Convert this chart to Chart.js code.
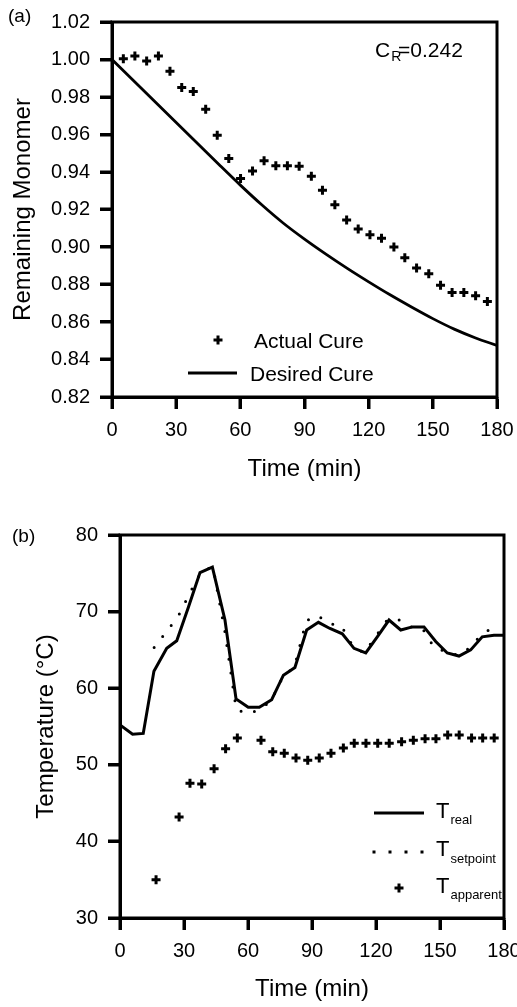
<!DOCTYPE html>
<html>
<head>
<meta charset="utf-8">
<script src="https://cdn.jsdelivr.net/npm/chart.js@4.4.1/dist/chart.umd.min.js"></script>
<style>
  body { margin: 0; background: #fff; }
  .wrap { position: absolute; left: 0; width: 517px; }
  #wrapA { top: 0; height: 490px; }
  #wrapB { top: 490px; height: 517px; }
</style>
</head>
<body>
<div class="wrap" id="wrapA"><canvas id="cureChart"></canvas></div>
<div class="wrap" id="wrapB"><canvas id="tempChart"></canvas></div>
<script>
const FONT = '"Liberation Sans", Arial, sans-serif';

// (a) remaining monomer
const cureTimes = [5.3, 10.7, 16.2, 21.7, 27.1, 32.6, 38.0, 43.8, 49.2, 54.6, 60.1, 65.7, 71.1, 76.6, 82.0, 87.5,
  93.2, 98.4, 104.2, 109.7, 115.1, 120.6, 126.0, 131.8, 136.9, 142.4, 148.1, 153.6, 159.0, 164.5, 170.0, 175.5];
const actualCure = [1.0004, 1.0019, 0.9992, 1.0019, 0.9938, 0.9851, 0.9829, 0.9735, 0.9596, 0.9472, 0.9365, 0.9405,
  0.946, 0.9434, 0.9434, 0.9431, 0.9377, 0.9303, 0.9226, 0.9144, 0.9096, 0.9066, 0.9047, 0.900, 0.8943, 0.8888,
  0.8858, 0.8796, 0.8757, 0.8757, 0.874, 0.8709];
const desiredTimes = [0, 10, 20, 30, 40, 50, 60, 70, 80, 90, 100, 110, 120, 130, 140, 150, 160, 170, 180];
const desiredCure = [1.000, 0.9888, 0.9776, 0.9664, 0.9552, 0.9440, 0.9330, 0.9225, 0.9128, 0.9042, 0.8962, 0.8886,
  0.8814, 0.8745, 0.8680, 0.8618, 0.8562, 0.8515, 0.8475];
const cureTicks = [0.82, 0.84, 0.86, 0.88, 0.90, 0.92, 0.94, 0.96, 0.98, 1.00, 1.02];

// (b) temperatures
const realTimes = [0, 5.9, 10.9, 15.9, 21.9, 26.6, 32.1, 37.5, 43.3, 49.2, 54.4, 60.1, 65.3, 71.1, 76.6, 82.0, 87.5,
  93.0, 98.4, 104.2, 109.7, 115.2, 120.6, 126.1, 131.6, 137.0, 142.5, 148.0, 153.4, 158.9, 164.4, 169.8, 175.3, 180];
const realTemp = [55.2, 54.0, 54.1, 62.2, 65.2, 66.2, 70.6, 75.1, 75.8, 68.9, 58.6, 57.5, 57.5, 58.5, 61.7, 62.7, 67.6,
  68.6, 67.8, 67.1, 65.2, 64.6, 66.7, 68.9, 67.6, 68.0, 68.0, 66.1, 64.6, 64.2, 65.0, 66.7, 66.9, 66.9];
const setTimes = [16.0, 21.8, 27.3, 32.7, 38.2, 43.6, 49.1, 54.5, 60.0, 65.5, 70.9, 76.4, 81.8, 87.3, 92.7, 98.2,
  103.6, 109.1, 114.5, 120.0, 125.5, 130.9, 136.4, 141.8, 147.3, 152.7, 158.2, 163.6, 169.1, 174.5];
const setTemp = [65.3, 67.4, 69.4, 72.4, 75.3, 75.8, 67.5, 57.2, 56.7, 57.2, 58.4, 61.5, 62.8, 68.8, 69.5, 68.4,
  68.2, 65.5, 64.6, 66.8, 69.0, 68.9, 68.0, 67.8, 65.3, 64.8, 64.3, 65.2, 66.9, 67.9];
const appTimes = [16.9, 27.7, 32.8, 38.3, 44.1, 49.5, 55.0, 66.1, 71.6, 77.0, 82.5, 88.0, 93.4, 98.9, 104.7, 109.8,
  115.3, 120.8, 126.2, 132.0, 137.5, 143.0, 148.1, 153.6, 159.0, 164.8, 170.0, 175.4];
const appTemp = [35.0, 43.2, 47.6, 47.5, 49.5, 52.1, 53.5, 53.2, 51.7, 51.5, 50.9, 50.6, 50.9, 51.5, 52.2, 52.8,
  52.8, 52.8, 52.8, 53.0, 53.2, 53.4, 53.4, 53.9, 53.9, 53.5, 53.5, 53.5];
const tempTicks = [30, 40, 50, 60, 70, 80];

const timeTicks = [0, 30, 60, 90, 120, 150, 180];

const pts = (xs, ys) => xs.map((x, i) => ({ x: x, y: ys[i] }));

function drawCross(ctx, x, y, r) {
  ctx.beginPath();
  ctx.moveTo(x - r, y); ctx.lineTo(x + r, y);
  ctx.moveTo(x, y - r); ctx.lineTo(x, y + r);
  ctx.stroke();
}

function subText(ctx, x, y, main, sub, size, subSize, drop) {
  ctx.font = size + 'px ' + FONT;
  ctx.fillText(main, x, y);
  const w = ctx.measureText(main).width;
  ctx.font = subSize + 'px ' + FONT;
  ctx.fillText(sub, x + w + 1, y + drop);
}

// box round the plot, plus outward tick marks
const frame = {
  id: 'frame',
  afterDatasetsDraw(chart) {
    const { ctx, chartArea: a } = chart;
    const xs = chart.scales.x, ys = chart.scales.y;
    ctx.save();
    ctx.strokeStyle = '#000';
    ctx.fillStyle = '#000';
    ctx.lineWidth = 3;
    ctx.strokeRect(a.left, a.top, a.right - a.left, a.bottom - a.top);
    xs.ticks.forEach(t => {
      const px = Math.round(xs.getPixelForValue(t.value));
      ctx.fillRect(px - 1.5, a.bottom, 3, 12);
    });
    ys.ticks.forEach(t => {
      const py = Math.round(ys.getPixelForValue(t.value));
      ctx.fillRect(a.left - 12, py - 1.5, 12, 3);
    });
    ctx.restore();
  }
};

function axes(xTitle, yTitle, yMin, yMax, yTicks, yFmt, yWidth, xHeight, xTitlePad, yTitlePad) {
  const tickFont = { size: 20, family: FONT };
  const titleFont = { size: 24, family: FONT };
  const grid = { drawOnChartArea: false, tickLength: 12, tickWidth: 3, tickColor: '#000' };
  return {
    x: {
      type: 'linear', min: 0, max: 180,
      afterFit(s) { s.height = xHeight; s.paddingLeft = 0; s.paddingRight = 0; },
      afterBuildTicks(s) { s.ticks = timeTicks.map(v => ({ value: v })); },
      ticks: { color: '#000', font: tickFont, padding: 9, maxRotation: 0, autoSkip: false },
      grid: grid,
      border: { color: '#000', width: 3 },
      title: { display: true, text: xTitle, color: '#000', font: titleFont, padding: { top: 0, bottom: xTitlePad } }
    },
    y: {
      min: yMin, max: yMax,
      afterFit(s) { s.width = yWidth; },
      afterBuildTicks(s) { s.ticks = yTicks.map(v => ({ value: v })); },
      ticks: { color: '#000', font: tickFont, padding: 10, callback: yFmt, autoSkip: false },
      grid: grid,
      border: { color: '#000', width: 3 },
      title: { display: true, text: yTitle, color: '#000', font: titleFont, padding: { top: yTitlePad, bottom: 0 } }
    }
  };
}

const cureNotes = {
  id: 'cureNotes',
  afterDraw(chart) {
    const ctx = chart.ctx;
    ctx.save();
    ctx.fillStyle = '#000';
    ctx.strokeStyle = '#000';
    ctx.textBaseline = 'alphabetic';
    ctx.font = '19px ' + FONT;
    ctx.fillText('(a)', 8, 22);
    subText(ctx, 375, 57, 'C', 'R', 21, 14, 4);
    ctx.font = '21px ' + FONT;
    ctx.fillText('=0.242', 398, 57);
    // legend
    ctx.lineWidth = 3;
    drawCross(ctx, 218, 340, 4.5);
    ctx.fillText('Actual Cure', 254, 348);
    ctx.beginPath();
    ctx.moveTo(188, 373); ctx.lineTo(237, 373);
    ctx.stroke();
    ctx.fillText('Desired Cure', 250, 381);
    ctx.restore();
  }
};

const tempNotes = {
  id: 'tempNotes',
  afterDraw(chart) {
    const ctx = chart.ctx;
    ctx.save();
    ctx.fillStyle = '#000';
    ctx.strokeStyle = '#000';
    ctx.textBaseline = 'alphabetic';
    ctx.font = '19px ' + FONT;
    ctx.fillText('(b)', 12, 52);
    ctx.lineWidth = 3;
    ctx.beginPath();
    ctx.moveTo(374, 323); ctx.lineTo(424, 323);
    ctx.stroke();
    subText(ctx, 436, 328, 'T', 'real', 22, 13, 6);
    [374, 390, 406, 422].forEach(x => { ctx.fillRect(x - 1.5, 360.5, 3, 3); });
    subText(ctx, 436, 366, 'T', 'setpoint', 22, 13, 7);
    drawCross(ctx, 399, 398, 4.5);
    subText(ctx, 436, 403, 'T', 'apparent', 22, 13, 6);
    ctx.restore();
  }
};

new Chart(document.getElementById('cureChart'), {
  type: 'line',
  data: {
    datasets: [
      {
        label: 'Desired Cure',
        data: pts(desiredTimes, desiredCure),
        borderColor: '#000', borderWidth: 2.8, pointRadius: 0, cubicInterpolationMode: 'monotone', fill: false
      },
      {
        label: 'Actual Cure',
        data: pts(cureTimes, actualCure),
        showLine: false, pointStyle: 'cross', pointRadius: 4.5, pointBorderWidth: 3,
        pointBorderColor: '#000', borderColor: '#000'
      }
    ]
  },
  options: {
    responsive: true, maintainAspectRatio: false, animation: false,
    layout: { padding: { left: 0, right: 20, top: 13, bottom: 0 } },
    plugins: { legend: { display: false }, tooltip: { enabled: false } },
    scales: axes('Time (min)', 'Remaining Monomer', 0.82, 1.02, cureTicks, v => v.toFixed(2), 112, 93, 6, 9)
  },
  plugins: [frame, cureNotes]
});

new Chart(document.getElementById('tempChart'), {
  type: 'line',
  data: {
    datasets: [
      {
        label: 'T_real',
        data: pts(realTimes, realTemp),
        borderColor: '#000', borderWidth: 3, pointRadius: 0, tension: 0, fill: false
      },
      {
        label: 'T_setpoint',
        data: pts(setTimes, setTemp),
        borderColor: '#000', borderWidth: 3, borderDash: [0, 14], borderCapStyle: 'round',
        pointRadius: 0, tension: 0, fill: false
      },
      {
        label: 'T_apparent',
        data: pts(appTimes, appTemp),
        showLine: false, pointStyle: 'cross', pointRadius: 4.5, pointBorderWidth: 3,
        pointBorderColor: '#000', borderColor: '#000'
      }
    ]
  },
  options: {
    responsive: true, maintainAspectRatio: false, animation: false,
    layout: { padding: { left: 0, right: 13, top: 45, bottom: 0 } },
    plugins: { legend: { display: false }, tooltip: { enabled: false } },
    scales: axes('Time (min)', 'Temperature (°C)', 30, 80, tempTicks, v => v, 120, 89, 3, 32)
  },
  plugins: [frame, tempNotes]
});
</script>
</body>
</html>
